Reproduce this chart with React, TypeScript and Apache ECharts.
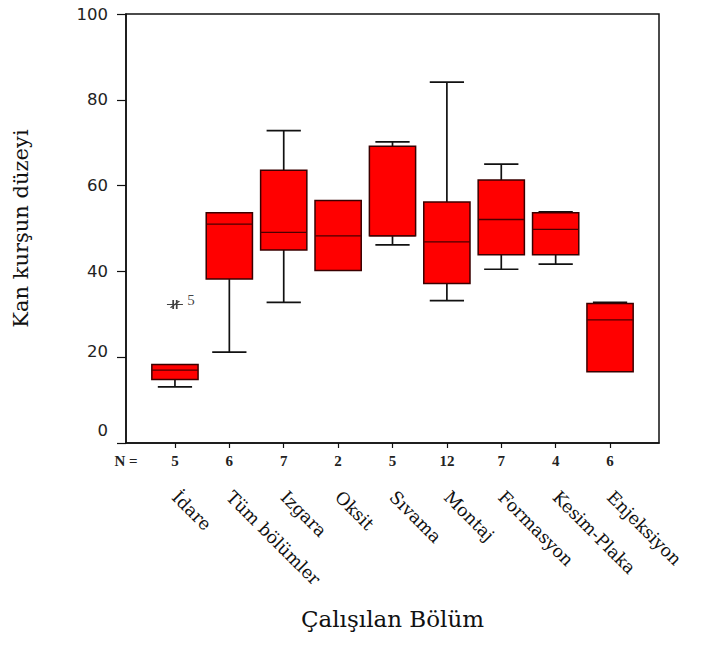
import React, { useEffect, useRef } from "react";
import * as echarts from "echarts";

const categories = ["İdare", "Tüm bölümler", "Izgara", "Oksit", "Sıvama", "Montaj", "Formasyon", "Kesim-Plaka", "Enjeksiyon"];
const counts = [5, 6, 7, 2, 5, 12, 7, 4, 6];
const lows = [13.1, 21.2, 32.8, 40.2, 46.2, 33.2, 40.5, 41.7, 16.6];
const q1s = [14.8, 38.2, 45.0, 40.2, 48.3, 37.2, 43.9, 43.9, 16.6];
const medians = [17.0, 51.0, 49.1, 48.3, 48.3, 46.9, 52.1, 49.8, 28.7];
const q3s = [18.3, 53.7, 63.6, 56.5, 69.2, 56.2, 61.3, 53.7, 32.5];
const highs = [18.3, 53.7, 72.8, 56.5, 70.2, 84.1, 65.0, 53.9, 32.8];
const outliers = [{ category: 1, value: 32.3, label: "5" }];
const yTicks = [0, 20, 40, 60, 80, 100];

export default function App() {
  const ref = useRef<HTMLDivElement>(null);
  useEffect(() => {
    if (!ref.current) return;
    const chart = echarts.init(ref.current, null, { renderer: "svg" });
    const positions = categories.map((_, i) => i + 1);
    const boxData = categories.map((_, i) => [i + 1, lows[i], q1s[i], medians[i], q3s[i], highs[i]]);
    const serif = "'DejaVu Serif', 'Liberation Serif', serif";

    const option: any = {
      animation: false,
      backgroundColor: "#fff",
      grid: {
        left: 126, top: 14, right: 47, bottom: 203,
        show: true, borderColor: "#111", borderWidth: 1.5,
        backgroundColor: "transparent",
        containLabel: false, outerBoundsMode: "none",
      },
      xAxis: [
        {
          type: "value", min: 0.1, max: 9.9, position: "bottom",
          splitLine: { show: false },
          axisLine: { show: true, onZero: false, lineStyle: { color: "#111", width: 1.5 } },
          axisTick: { show: true, length: 5, customValues: positions, lineStyle: { color: "#111", width: 1.2 } },
          axisLabel: {
            show: true, margin: 10, customValues: [0.1, ...positions],
            formatter: (v: number) => (v < 0.5 ? "N =" : String(counts[Math.round(v) - 1])),
            fontFamily: "'Liberation Serif', serif", fontSize: 15, fontWeight: "bold", color: "#222",
          },
          name: "Çalışılan Bölüm", nameLocation: "middle", nameGap: 164,
          nameTextStyle: { fontFamily: serif, fontSize: 23, color: "#111" },
        },
        {
          type: "value", min: 0.1, max: 9.9, position: "bottom",
          splitLine: { show: false },
          axisLine: { show: false }, axisTick: { show: false },
          axisLabel: {
            show: true, margin: 51, rotate: -45, customValues: positions,
            formatter: (v: number) => categories[Math.round(v) - 1],
            fontFamily: serif, fontSize: 17.5, color: "#111",
          },
        },
      ],
      yAxis: {
        type: "value", min: 0, max: 100, interval: 20,
        splitLine: { show: false },
        axisLine: { show: true, onZero: false, lineStyle: { color: "#111", width: 1.5 } },
        axisTick: { show: true, length: 9, customValues: yTicks, lineStyle: { color: "#111", width: 1.2 } },
        axisLabel: {
          margin: 18, fontFamily: "'DejaVu Sans', sans-serif", fontSize: 16.5, color: "#222",
          customValues: yTicks,
          formatter: (v: number) => (v === 0 ? "{z|0}" : v === 20 ? "{t|20}" : String(v)),
          rich: { z: { padding: [0, 0, 26, 0] }, t: { padding: [0, 0, 12, 0] } },
        },
        name: "Kan kurşun düzeyi", nameLocation: "middle", nameRotate: 90, nameGap: 95,
        nameTextStyle: { fontFamily: serif, fontSize: 21, color: "#111" },
      },
      series: [
        {
          type: "custom",
          xAxisIndex: 0,
          yAxisIndex: 0,
          data: boxData,
          encode: { x: 0, y: [1, 2, 3, 4, 5] },
          renderItem: (params: any, api: any) => {
            const x = api.value(0);
            const lo = api.value(1), q1 = api.value(2), md = api.value(3), q3 = api.value(4), hi = api.value(5);
            const bw = api.size([0.85, 0])[0];
            const cw = api.size([0.63, 0])[0];
            const cx = api.coord([x, lo])[0];
            const yLo = api.coord([x, lo])[1];
            const yQ1 = api.coord([x, q1])[1];
            const yMd = api.coord([x, md])[1];
            const yQ3 = api.coord([x, q3])[1];
            const yHi = api.coord([x, hi])[1];
            const line = (x1: number, y1: number, x2: number, y2: number, stroke = "#111", lw = 1.7) => ({
              type: "line", shape: { x1, y1, x2, y2 }, style: { stroke, lineWidth: lw },
            });
            const children: any[] = [];
            if (hi > q3) {
              children.push(line(cx, yHi, cx, yQ3));
              children.push(line(cx - cw / 2, yHi, cx + cw / 2, yHi));
            }
            if (lo < q1) {
              children.push(line(cx, yQ1, cx, yLo));
              children.push(line(cx - cw / 2, yLo, cx + cw / 2, yLo));
            }
            children.push({
              type: "rect",
              shape: { x: cx - bw / 2, y: yQ3, width: bw, height: yQ1 - yQ3 },
              style: { fill: "#ff0000", stroke: "#3a0000", lineWidth: 1.5 },
            });
            children.push(line(cx - bw / 2, yMd, cx + bw / 2, yMd, "#4a0000", 1.3));
            return { type: "group", children };
          },
          z: 2,
        },
        {
          type: "scatter",
          xAxisIndex: 0,
          yAxisIndex: 0,
          data: outliers.map((o) => ({ value: [o.category, o.value], name: o.label })),
          symbol: "path://M0,5L18,5M7,1L7,9M11,1L11,9M4,8L14,2",
          symbolSize: [16, 9],
          itemStyle: { color: "none", borderColor: "#111", borderWidth: 1.3 },
          label: {
            show: true, position: "right", distance: 1, offset: [0, -4],
            formatter: (p: any) => p.name,
            fontFamily: "'Liberation Serif', serif", fontSize: 15, color: "#111",
          },
          z: 3,
        },
      ],
    };
    chart.setOption(option);
    return () => chart.dispose();
  }, []);
  return <div ref={ref} style={{ position: "fixed", left: 0, top: 0, width: 706, height: 646 }} />;
}
